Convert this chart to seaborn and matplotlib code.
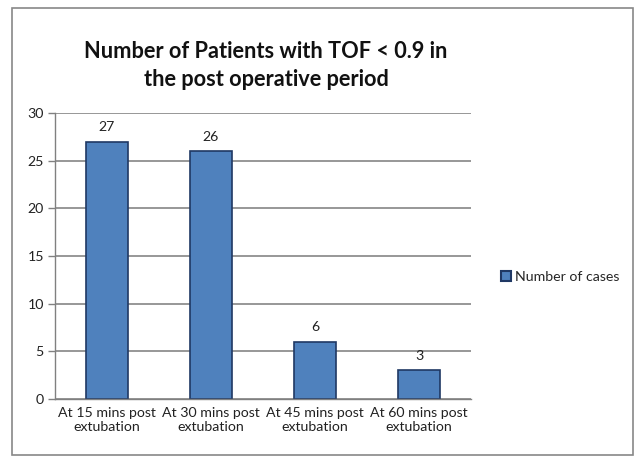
import matplotlib
matplotlib.use("Agg")
import matplotlib.pyplot as plt
import seaborn as sns
import pandas as pd
from matplotlib.patches import Rectangle

# chart data
categories = ["At 15 mins post\nextubation", "At 30 mins post\nextubation",
              "At 45 mins post\nextubation", "At 60 mins post\nextubation"]
cases = [27, 26, 6, 3]
series_name = "Number of cases"
y_ticks = [0, 5, 10, 15, 20, 25, 30]

df = pd.DataFrame({"period": categories, "cases": cases, "series": series_name})

sns.set_theme(style="white")
plt.rcParams["font.family"] = ["Lato", "DejaVu Sans"]

fig = plt.figure(figsize=(6.38, 4.59), dpi=100)
ax = fig.add_axes([0.0862, 0.1307, 0.6520, 0.6231])

sns.barplot(data=df, x="period", y="cases", hue="series", ax=ax,
            palette=["#4F81BD"], saturation=1, width=0.4, edgecolor="#1F3864",
            linewidth=1.2, legend=False)

ax.set_ylim(0, 30)
ax.set_xlim(-0.5, len(categories) - 0.5)
ax.set_yticks(y_ticks)
ax.yaxis.grid(True, color="#7a7a7a", linewidth=1.1)
ax.set_axisbelow(True)
ax.set_xlabel("")
ax.set_ylabel("")

# category separators as tick marks on the x axis
ax.set_xticks([i for i in range(len(categories))])
ax.set_xticklabels(categories, fontsize=10.2, color="#222222")
ax.tick_params(axis="x", length=0, pad=6)
ax.set_xticks([i - 0.5 for i in range(len(categories) + 1)], minor=True)
ax.tick_params(axis="x", which="minor", length=5, color="#808080", width=1, direction="out")
ax.tick_params(axis="y", length=5, color="#808080", width=1, direction="out",
               labelsize=10.2, labelcolor="#222222", left=True, pad=3)

for s in ["top", "right"]:
    ax.spines[s].set_visible(False)
for s in ["left", "bottom"]:
    ax.spines[s].set_color("#808080")
    ax.spines[s].set_linewidth(1.0)

for i, v in enumerate(cases):
    ax.annotate(str(v), (i, v), xytext=(0, 6), textcoords="offset points",
                ha="center", va="bottom", fontsize=10.2, color="#222222")

fig.text(0.417, 0.858, "Number of Patients with TOF < 0.9 in\nthe post operative period",
         ha="center", va="center", fontsize=15.7, fontweight="bold",
         color="#111111", linespacing=1.4)

handle = Rectangle((0, 0), 1, 1, facecolor="#4F81BD", edgecolor="#1F3864", linewidth=1.5)
fig.legend([handle], [series_name], loc="center left", bbox_to_anchor=(0.765, 0.397),
           frameon=False, fontsize=10.2, handlelength=0.7, handleheight=0.7,
           handletextpad=0.3)

# outer chart border
fig.patches.append(Rectangle((12 / 638, 1 - 455 / 459), 621 / 638, 447 / 459,
                             transform=fig.transFigure, fill=False,
                             edgecolor="#888888", linewidth=1.2))

fig.savefig("out.png", dpi=100)
